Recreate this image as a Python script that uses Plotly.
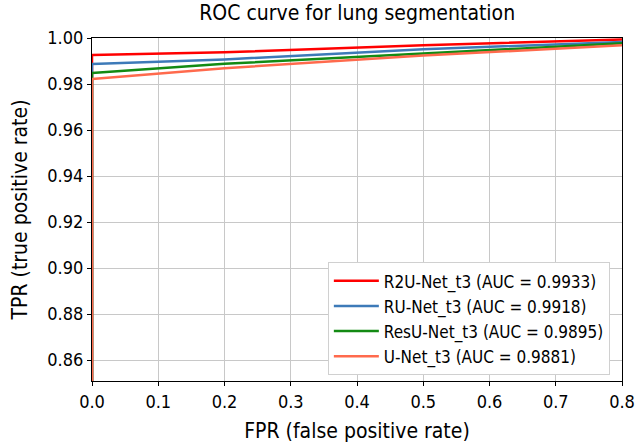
import plotly.graph_objects as go

fpr = [0.0, 0.0, 0.2, 0.5, 0.8, 1.0]
tpr_r2u = [0.0, 0.9926, 0.9938, 0.9968, 0.9994, 1.0]
tpr_ru = [0.0, 0.9887, 0.9907, 0.9951, 0.9983, 1.0]
tpr_resu = [0.0, 0.9848, 0.9888, 0.9933, 0.9977, 1.0]
tpr_u = [0.0, 0.9822, 0.9869, 0.9924, 0.9968, 1.0]

names = ["R2U-Net_t3 (AUC = 0.9933)", "RU-Net_t3 (AUC = 0.9918)",
         "ResU-Net_t3 (AUC = 0.9895)", "U-Net_t3 (AUC = 0.9881)"]
colors = ["#ff0000", "#3d7ab8", "#138a13", "#ff6a4d"]
series = [tpr_r2u, tpr_ru, tpr_resu, tpr_u]

fig = go.Figure()
for name, c, s in zip(names, colors, series):
    fig.add_trace(go.Scatter(x=fpr, y=s, mode="lines", name=name,
                             line=dict(color=c, width=2.5)))

font = "DejaVu Sans Condensed, DejaVu Sans"
fig.update_layout(
    width=635, height=444,
    margin=dict(l=92, r=13, t=38, b=63),
    paper_bgcolor="white", plot_bgcolor="white",
    font=dict(family=font, color="black", size=19),
    title=dict(text="ROC curve for lung segmentation", x=0.5625, xanchor="center",
               y=0.972, yanchor="middle", font=dict(size=21)),
    xaxis=dict(range=[0, 0.8], tickvals=[0, 0.1, 0.2, 0.3, 0.4, 0.5, 0.6, 0.7, 0.8],
               ticktext=["0.0", "0.1", "0.2", "0.3", "0.4", "0.5", "0.6", "0.7", "0.8"],
               showgrid=True, gridcolor="#c8c8c8", gridwidth=1,
               showline=True, linecolor="black", linewidth=1.2, mirror=True,
               ticks="outside", ticklen=4, tickcolor="black",
               zeroline=False, tickfont=dict(size=18), automargin=False,
               title=dict(text="FPR (false positive rate)", font=dict(size=21), standoff=12)),
    yaxis=dict(range=[0.8509, 1.0],
               tickvals=[0.86, 0.88, 0.90, 0.92, 0.94, 0.96, 0.98, 1.00],
               ticktext=["0.86", "0.88", "0.90", "0.92", "0.94", "0.96", "0.98", "1.00"],
               showgrid=True, gridcolor="#c8c8c8", gridwidth=1,
               showline=True, linecolor="black", linewidth=1.2, mirror=True,
               ticks="outside", ticklen=4, tickcolor="black",
               zeroline=False, tickfont=dict(size=18), automargin=False,
               title=dict(text="TPR (true positive rate)", font=dict(size=21), standoff=13)),
    legend=dict(x=0.445, y=0.346, xanchor="left", yanchor="top",
                bgcolor="white", bordercolor="#d0d0d0", borderwidth=1,
                font=dict(size=17), itemwidth=45, tracegroupgap=0),
    showlegend=True,
)

fig.write_html("out.html")
